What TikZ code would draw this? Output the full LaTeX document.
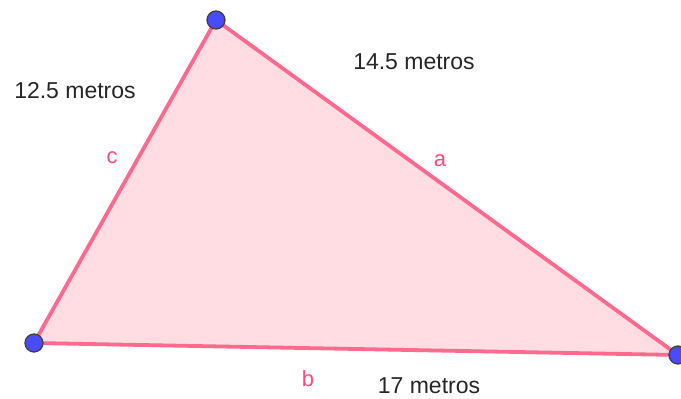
\documentclass[tikz,border=0pt]{standalone}
\usepackage{fontspec}
\setmainfont{Liberation Sans}
\usepackage{tikz}
\usetikzlibrary{positioning}
\definecolor{TriLine}{HTML}{FF6A8E}
\definecolor{TriFill}{HTML}{FFDDE3}
\definecolor{TriLabel}{HTML}{FF4A7A}
\definecolor{PtBlue}{HTML}{4A4AFF}

\begin{document}
\begin{tikzpicture}[x=1pt,y=-1pt,
  side/.style={draw=TriLine,line width=3.8pt,line join=round},
  vertex/.style={circle,draw=black!75,fill=PtBlue,line width=1.3pt,minimum size=18pt,inner sep=0pt},
  sidelbl/.style={text=TriLabel,font=\fontsize{22}{26}\selectfont},
  measure/.style={text=black!85,font=\fontsize{23}{28}\selectfont}]
  \useasboundingbox (0,0) rectangle (681,399);
  \coordinate (A) at (34,343);
  \coordinate (B) at (216,20);
  \coordinate (C) at (678,355);
  \fill[TriFill] (A)--(B)--(C)--cycle;
  \draw[side] (A)--(B)--(C)--cycle;
  \node[vertex] (pA) at (A) {};
  \node[vertex] (pB) at (B) {};
  \node[vertex] (pC) at (C) {};
  \node[sidelbl] (la) at (440,161) {a};
  \node[sidelbl] (lb) at (308,379) {b};
  \node[sidelbl] (lc) at (112,158) {c};
  \node[measure] (ma) at (414,62) {14.5 metros};
  \node[measure] (mb) at (429,386) {17 metros};
  \node[measure] (mc) at (75,91) {12.5 metros};
\end{tikzpicture}
\end{document}
